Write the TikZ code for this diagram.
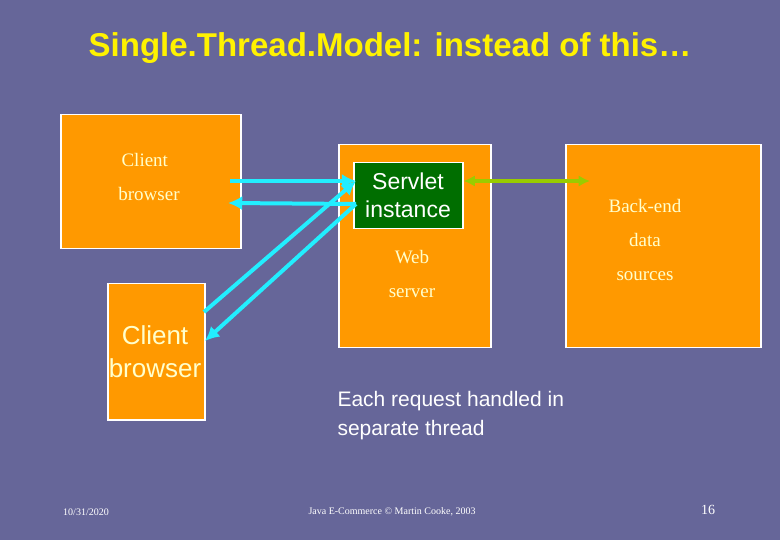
\documentclass[tikz,border=0pt]{standalone}
\usepackage{fontspec}
\setmainfont{Liberation Serif}
\setsansfont{Liberation Sans}
\usetikzlibrary{arrows.meta}
\definecolor{slide}{HTML}{666699}
\definecolor{box}{HTML}{FF9900}
\definecolor{cream}{HTML}{FFFFCC}
\definecolor{servletgreen}{HTML}{006E00}
\definecolor{link}{HTML}{22EEFF}
\definecolor{lime}{HTML}{99CC00}
\begin{document}
\begin{tikzpicture}[x=1pt,y=-1pt,
  tier/.style={draw=white, line width=1.5pt, fill=box, rectangle, anchor=north west},
  lbl/.style={text=cream, align=center, font=\fontsize{19}{34}\selectfont},
  wire/.style={-{Latex[length=5mm, width=5mm]}, line width=4pt, draw=link}]
\fill[slide] (0,0) rectangle (780,540);

\node[font=\sffamily\bfseries\fontsize{33}{38}\selectfont, text=yellow] (title) at (390,48)
  {Single.Thread.Model: instead of this…};

\node[tier, minimum width=180, minimum height=134] (client) at (60,114) {};
\node[tier, minimum width=152, minimum height=203] (web) at (338,144) {};
\node[tier, minimum width=195, minimum height=203] (backend) at (565,144) {};
\node[tier, minimum width=97, minimum height=136] (client2) at (107,283) {};
\node[draw=white, line width=1.5pt, fill=servletgreen, anchor=north west,
  minimum width=109, minimum height=66] (servlet) at (353,162) {};

\node[lbl, align=left] (clienttext) at (149,177) {\,Client\\browser};
\node[lbl] (webtext) at (412,274) {Web\\server};
\node[lbl] (backtext) at (645,240) {Back-end\\data\\sources};
\node[text=white, align=center, font=\sffamily\fontsize{23}{28}\selectfont] (servlettext) at (408,195) {Servlet\\instance};
\node[text=cream, align=center, font=\sffamily\fontsize{26}{33}\selectfont] (client2text) at (155,352) {Client\\browser};

\coordinate (c1a) at (230,181);
\coordinate (c1b) at (228,203);
\coordinate (s1) at (356,181);
\coordinate (s2) at (356,204);
\coordinate (c2a) at (204,312);
\coordinate (c2b) at (205,341);
\draw[wire] (c1a) -- (s1);
\draw[wire] (s2) -- (c1b);
\draw[wire] (c2a) -- (s1);
\draw[wire] (s2) -- (c2b);
\draw[{Latex[length=4mm, width=4mm]}-{Latex[length=4mm, width=4mm]}, line width=4pt, draw=lime]
  (servlet.east |- s1) -- (590,181);

\node[anchor=north west, align=left, text=white, font=\sffamily\fontsize{21}{29}\selectfont] (note) at (334,388)
  {Each request handled in\\separate thread};

\node[text=white, font=\fontsize{10}{12}\selectfont] (date) at (86,512) {10/31/2020};
\node[text=white, font=\fontsize{10}{12}\selectfont] (footer) at (392,512) {Java E-Commerce © Martin Cooke, 2003};
\node[text=white, font=\fontsize{14}{16}\selectfont] (page) at (708,510) {16};
\end{tikzpicture}
\end{document}
